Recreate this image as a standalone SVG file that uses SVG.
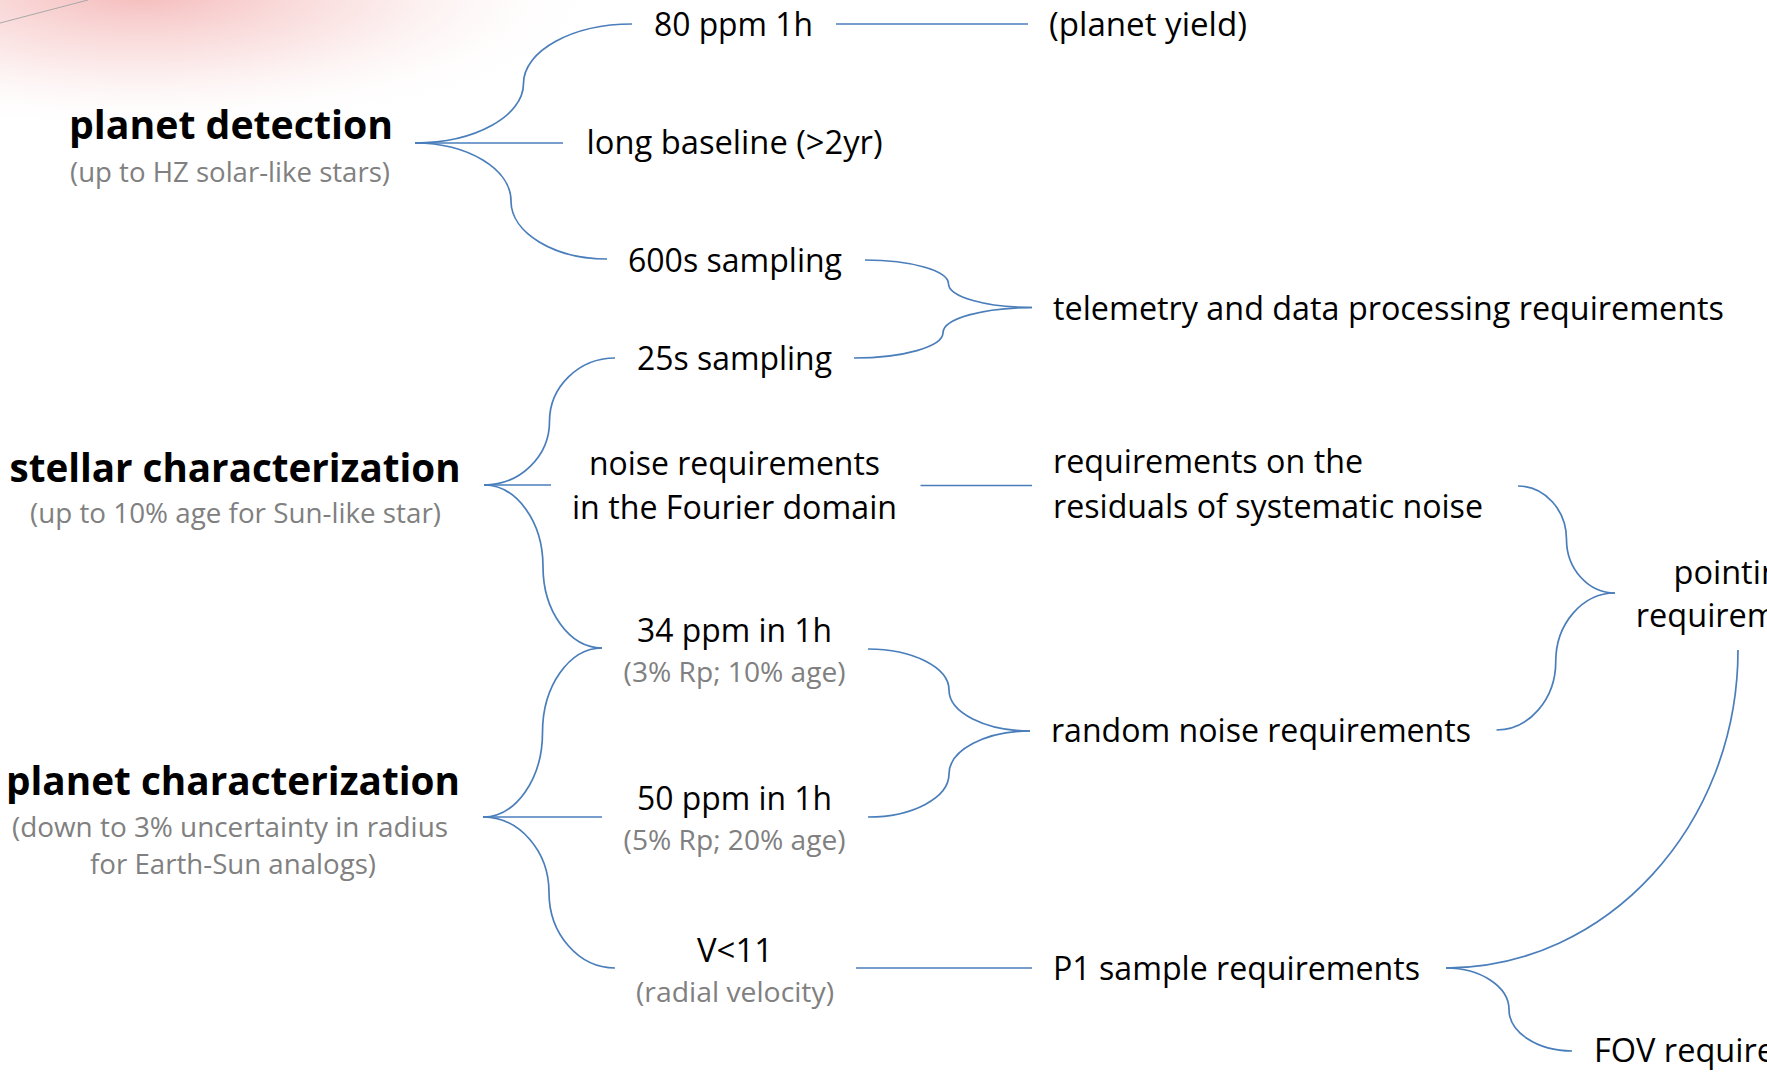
<svg xmlns="http://www.w3.org/2000/svg" width="1767" height="1073" viewBox="0 0 1767 1073">
<defs>
<radialGradient id="pink" cx="0.5" cy="0.5" r="0.5">
<stop offset="0" stop-color="#f09a9a" stop-opacity="0.7"/>
<stop offset="0.5" stop-color="#f6c4c4" stop-opacity="0.4"/>
<stop offset="1" stop-color="#ffffff" stop-opacity="0"/>
</radialGradient>
<style>
text{font-family:"Open Sans","Noto Sans","Liberation Sans",sans-serif;fill:#000}
.n{font-size:32.5px}
.h{font-size:40px;font-weight:bold}
.g{font-size:27.5px;fill:#808080}
.c{text-anchor:middle}
.conn path{fill:none;stroke:#4a7ebb;stroke-width:1.7}
</style>
</defs>
<rect width="1767" height="1073" fill="#fff"/>
<g id="background">
<ellipse cx="140" cy="-10" rx="470" ry="145" fill="url(#pink)"/>
<line x1="0" y1="23" x2="88" y2="0" stroke="#a8a8a8" stroke-width="1"/>
</g>
<g class="conn" id="connectors">
<path d="M415,143 C474.7,143 523.5,116.2 523.5,83.5 C523.5,50.8 572.3,24 632,24"/>
<path d="M415,143 H563"/>
<path d="M415,143 C467.8,143 511,169.1 511,201 C511,232.9 554.2,259 607,259"/>
<path d="M484,485 C520,485 549.5,456.4 549.5,421.5 C549.5,386.6 579,358 615,358"/>
<path d="M484,485 H551"/>
<path d="M484,485 C516.5,485 543,521.7 543,566.5 C543,611.3 569.5,648 602,648"/>
<path d="M483,817 C515.7,817 542.5,779 542.5,732.5 C542.5,686 569.3,648 602,648"/>
<path d="M483,817 H602"/>
<path d="M483,817 C519.3,817 549,851 549,892.5 C549,934 578.7,968 615,968"/>
<path d="M836,24 H1028"/>
<path d="M865,260 C910.9,260 948.5,270.7 948.5,283.75 C948.5,296.8 986.1,307.5 1032,307.5"/>
<path d="M854,358 C903,358 943,346.6 943,332.75 C943,318.9 983,307.5 1032,307.5"/>
<path d="M920.5,485.5 H1032"/>
<path d="M868,649 C912.6,649 949,667.4 949,690 C949,712.6 985.4,731 1030,731"/>
<path d="M868,817 C912.6,817 949,797.7 949,774 C949,750.3 985.4,731 1030,731"/>
<path d="M856,968 H1032"/>
<path d="M1518,486 C1544.7,486 1566.5,510.1 1566.5,539.5 C1566.5,568.9 1588.3,593 1615,593"/>
<path d="M1496.5,730 C1529.1,730 1555.75,699.2 1555.75,661.5 C1555.75,623.8 1582.4,593 1615,593"/>
<path d="M1446,968 C1607,968 1738,825 1738,650"/>
<path d="M1446,968 C1480.7,968 1509,986.7 1509,1009.5 C1509,1032.3 1537.3,1051 1572,1051"/>
</g>
<g id="planet-detection">
<text class="h c" x="231" y="139" textLength="324" lengthAdjust="spacingAndGlyphs">planet detection</text>
<text class="g c" x="230" y="182" textLength="320" lengthAdjust="spacingAndGlyphs">(up to HZ solar-like stars)</text>
</g>
<g id="stellar-characterization">
<text class="h c" x="235" y="481.5" textLength="451" lengthAdjust="spacingAndGlyphs">stellar characterization</text>
<text class="g c" x="235.5" y="523" textLength="411" lengthAdjust="spacingAndGlyphs">(up to 10% age for Sun-like star)</text>
</g>
<g id="planet-characterization">
<text class="h c" x="233" y="795" textLength="454" lengthAdjust="spacingAndGlyphs">planet characterization</text>
<text class="g c" x="230" y="836.5" textLength="436" lengthAdjust="spacingAndGlyphs">(down to 3% uncertainty in radius</text>
<text class="g c" x="233" y="874" textLength="286" lengthAdjust="spacingAndGlyphs">for Earth-Sun analogs)</text>
</g>
<g id="ppm80">
<text class="n c" x="733.5" y="36" textLength="159" lengthAdjust="spacingAndGlyphs">80 ppm 1h</text>
</g>
<g id="planet-yield">
<text class="n" x="1049" y="36" textLength="198" lengthAdjust="spacingAndGlyphs">(planet yield)</text>
</g>
<g id="long-baseline">
<text class="n c" x="734.6" y="154" textLength="296" lengthAdjust="spacingAndGlyphs">long baseline (&gt;2yr)</text>
</g>
<g id="sampling600">
<text class="n c" x="735" y="271.5" textLength="214" lengthAdjust="spacingAndGlyphs">600s sampling</text>
</g>
<g id="sampling25">
<text class="n c" x="734.5" y="370" textLength="195" lengthAdjust="spacingAndGlyphs">25s sampling</text>
</g>
<g id="telemetry">
<text class="n" x="1053" y="320" textLength="671" lengthAdjust="spacingAndGlyphs">telemetry and data processing requirements</text>
</g>
<g id="noise-fourier">
<text class="n c" x="734.5" y="475" textLength="291" lengthAdjust="spacingAndGlyphs">noise requirements</text>
<text class="n c" x="734.5" y="519" textLength="325" lengthAdjust="spacingAndGlyphs">in the Fourier domain</text>
</g>
<g id="systematic">
<text class="n" x="1053" y="472.5" textLength="310" lengthAdjust="spacingAndGlyphs">requirements on the</text>
<text class="n" x="1053" y="518" textLength="430" lengthAdjust="spacingAndGlyphs">residuals of systematic noise</text>
</g>
<g id="ppm34">
<text class="n c" x="734.5" y="641.5" textLength="195" lengthAdjust="spacingAndGlyphs">34 ppm in 1h</text>
<text class="g c" x="734.6" y="681.5" textLength="222" lengthAdjust="spacingAndGlyphs">(3% Rp; 10% age)</text>
</g>
<g id="ppm50">
<text class="n c" x="734.5" y="810" textLength="195" lengthAdjust="spacingAndGlyphs">50 ppm in 1h</text>
<text class="g c" x="734.6" y="850" textLength="222" lengthAdjust="spacingAndGlyphs">(5% Rp; 20% age)</text>
</g>
<g id="random-noise">
<text class="n" x="1051" y="741.5" textLength="420" lengthAdjust="spacingAndGlyphs">random noise requirements</text>
</g>
<g id="v11">
<text class="n c" x="735" y="961.5" textLength="76" lengthAdjust="spacingAndGlyphs">V&lt;11</text>
<text class="g c" x="735" y="1001.5" textLength="198" lengthAdjust="spacingAndGlyphs">(radial velocity)</text>
</g>
<g id="p1-sample">
<text class="n" x="1053" y="980" textLength="367" lengthAdjust="spacingAndGlyphs">P1 sample requirements</text>
</g>
<g id="pointing">
<text class="n c" x="1736" y="583.5">pointing</text>
<text class="n c" x="1739" y="627">requirements</text>
</g>
<g id="fov">
<text class="n" x="1594" y="1061.5">FOV requirements</text>
</g>
</svg>
